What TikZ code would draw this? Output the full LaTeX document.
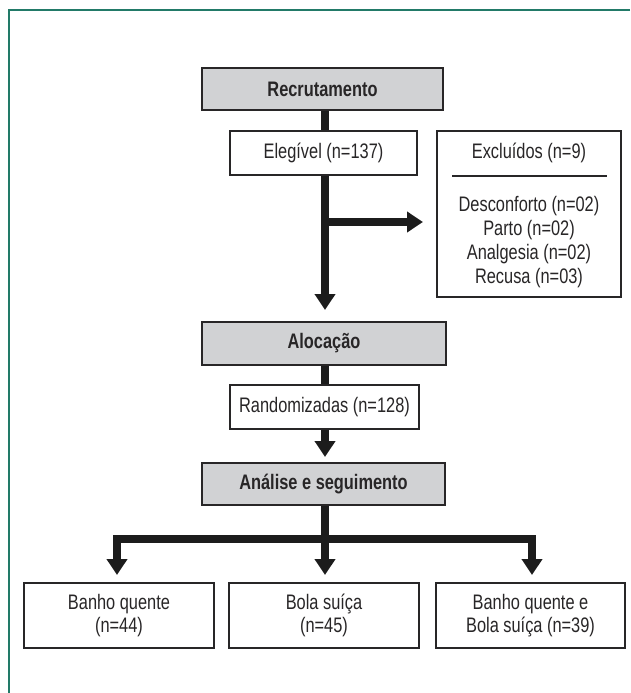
\documentclass[tikz,border=0pt]{standalone}
\usepackage{fontspec}
\setmainfont{Liberation Sans}[FakeStretch=0.78]
\usetikzlibrary{arrows.meta}
\definecolor{framegreen}{RGB}{34,122,104}
\definecolor{boxgray}{RGB}{209,210,212}
\definecolor{inkdark}{RGB}{40,38,39}
\definecolor{arrowink}{RGB}{28,28,28}
\tikzset{
  txt/.style={font=\fontsize{21}{23.5}\selectfont, text=inkdark, inner sep=0pt},
  whitebox/.style={txt, draw=inkdark, line width=1.4pt, fill=white, align=center},
  graybox/.style={whitebox, fill=boxgray, font=\fontsize{21}{23.5}\selectfont\bfseries},
  bar/.style={draw=arrowink, line width=8pt, line join=miter},
  bararrow/.style={bar, -{Triangle[width=20pt,length=16pt]}},
  twoarrow/.style={bar, {Triangle[width=20pt,length=16pt]}-{Triangle[width=20pt,length=16pt]}},
}
\begin{document}
\begin{tikzpicture}[x=1pt,y=-1pt]
\useasboundingbox (0,0) rectangle (630,693);
% frame
\draw[framegreen, line width=2pt] (630,10) -- (9,10) -- (9,693);

% boxes
\node[graybox, minimum width=241pt, minimum height=42pt] (rec) at (322.5,89) {Recrutamento};
\node[whitebox, minimum width=187pt, minimum height=44pt] (ele) at (323.5,153) {Elegível (n=137)};
\node[whitebox, minimum width=184pt, minimum height=166pt] (exc) at (529,214) {};
\node[txt] (exct) at (529,153) {Excluídos (n=9)};
\node[txt, align=center, font=\fontsize{21}{24}\selectfont] (excl) at (529,242) {Desconforto (n=02)\\Parto (n=02)\\Analgesia (n=02)\\Recusa (n=03)};
\coordinate (sepL) at (452,176);
\coordinate (sepR) at (607,176);
\draw[inkdark, line width=1.4pt] (sepL) -- (sepR);

\node[graybox, minimum width=244pt, minimum height=43pt] (alo) at (324,343.5) {Alocação};
\node[whitebox, minimum width=189pt, minimum height=44pt] (ran) at (324.5,407) {Randomizadas (n=128)};
\node[graybox, minimum width=243pt, minimum height=42pt] (ana) at (323.5,484) {Análise e seguimento};

\node[whitebox, minimum width=190pt, minimum height=65pt] (b1) at (119,615.5) {Banho quente\\(n=44)};
\node[whitebox, minimum width=190pt, minimum height=65pt] (b2) at (324,615.5) {Bola suíça\\(n=45)};
\node[whitebox, minimum width=189pt, minimum height=65pt] (b3) at (530.5,615.5) {Banho quente e\\Bola suíça (n=39)};

% connectors
\coordinate (tip1) at (325,310);
\coordinate (jct1) at (325,222);
\coordinate (tipE) at (423,222);
\coordinate (tip2) at (325,457);
\coordinate (cL) at (117,539);
\coordinate (cR) at (532,539);
\coordinate (tL) at (117,575);
\coordinate (tM) at (325,575);
\coordinate (tR) at (532,575);

\draw[bar] (rec.south -| tip1) -- (ele.north -| tip1);
\draw[bararrow] (ele.south -| tip1) -- (tip1);
\draw[bararrow] (jct1) -- (tipE);
\draw[bar] (alo.south -| tip2) -- (ran.north -| tip2);
\draw[bararrow] (ran.south -| tip2) -- (tip2);
\draw[bararrow] (ana.south -| tM) -- (tM);
\draw[twoarrow] (tL) -- (cL) -- (cR) -- (tR);
\end{tikzpicture}
\end{document}
